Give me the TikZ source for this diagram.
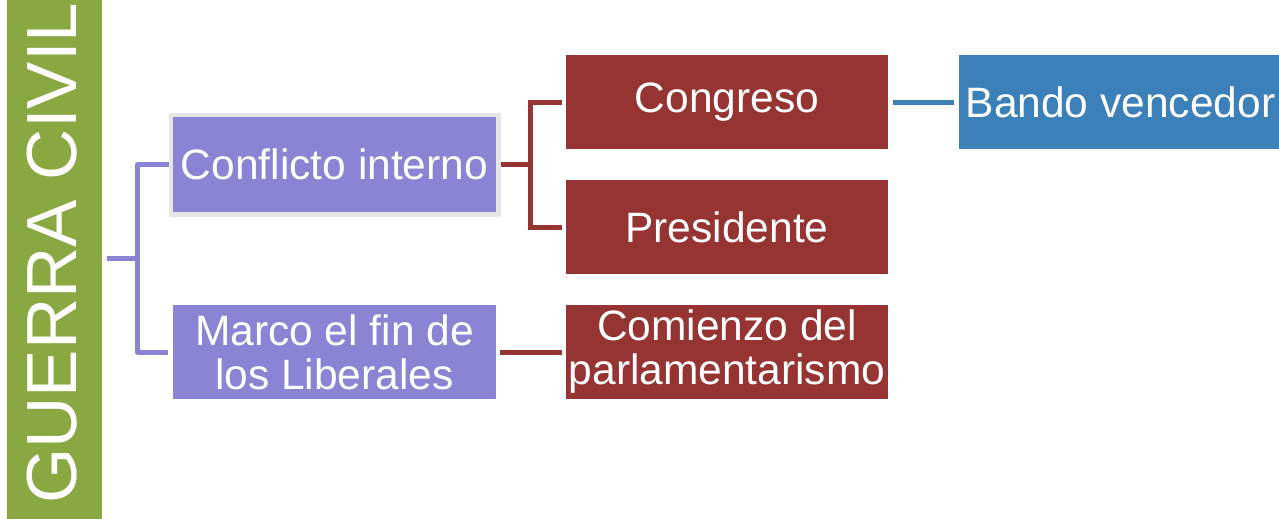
\documentclass[tikz,border=0pt]{standalone}
\usepackage{fontspec}
\setmainfont{Liberation Sans}
\definecolor{gcol}{RGB}{138,168,66}
\definecolor{pcol}{RGB}{139,131,211}
\definecolor{rcol}{RGB}{150,52,52}
\definecolor{bcol}{RGB}{60,128,186}
\definecolor{frame}{RGB}{230,230,230}
\begin{document}
\begin{tikzpicture}[x=1pt,y=-1pt,
  box/.style={inner sep=0pt, outer sep=0pt, text=white, align=center,
    font=\fontsize{42.5}{44}\selectfont, minimum height=94pt},
  pbox/.style={box, fill=pcol, minimum width=323pt},
  rbox/.style={box, fill=rcol, minimum width=322pt},
  bbox/.style={box, fill=bcol, minimum width=323pt},
  pline/.style={draw=pcol, line width=5pt},
  rline/.style={draw=rcol, line width=5pt},
  bline/.style={draw=bcol, line width=5pt}]
\useasboundingbox (0,0) rectangle (1279,519);
\node[fill=gcol, inner sep=0pt, outer sep=0pt, minimum width=95pt, minimum height=519pt] (bar) at (54.5,259.5) {};
\node[rotate=90, text=white, inner sep=0pt, font=\fontsize{71}{71}\selectfont] (gt) at (52,253) {GUERRA CIVIL};
\node[pbox, draw=frame, line width=4.5pt, minimum width=327.5pt, minimum height=99.5pt, outer sep=2.25pt] (ci) at (334.5,164.5) {Conflicto interno};
\node[pbox] (ml) at (334.5,352) {Marco el fin de\\los Liberales};
\node[rbox] (co) at (727,102) {Congreso};
\node[rbox] (pr) at (727,227) {Presidente};
\node[rbox] (cp) at (727,352) {Comienzo del\\parlamentarismo};
\node[bbox] (bv) at (1120.5,102) {Bando vencedor};
% purple connectors
\draw[pline] ([xshift=5pt]bar.east |- 0,258) -- (137.5,258) coordinate (pj);
\draw[pline, line join=round] (pj) |- (ci.west);
\draw[pline, line join=round, shorten >=5pt] (pj) |- (ml.west);
% red connectors
\draw[rline] (ci.east) -- (530.5,164.5) coordinate (rj);
\draw[rline, shorten >=4pt] (rj) |- (co.west);
\draw[rline, shorten >=4pt] (rj) |- (pr.west);
\draw[rline, shorten <=4pt, shorten >=4pt] (ml.east) -- (cp.west);
% blue connector
\draw[bline, shorten <=5pt, shorten >=5pt] (co.east) -- (bv.west);
\end{tikzpicture}
\end{document}
